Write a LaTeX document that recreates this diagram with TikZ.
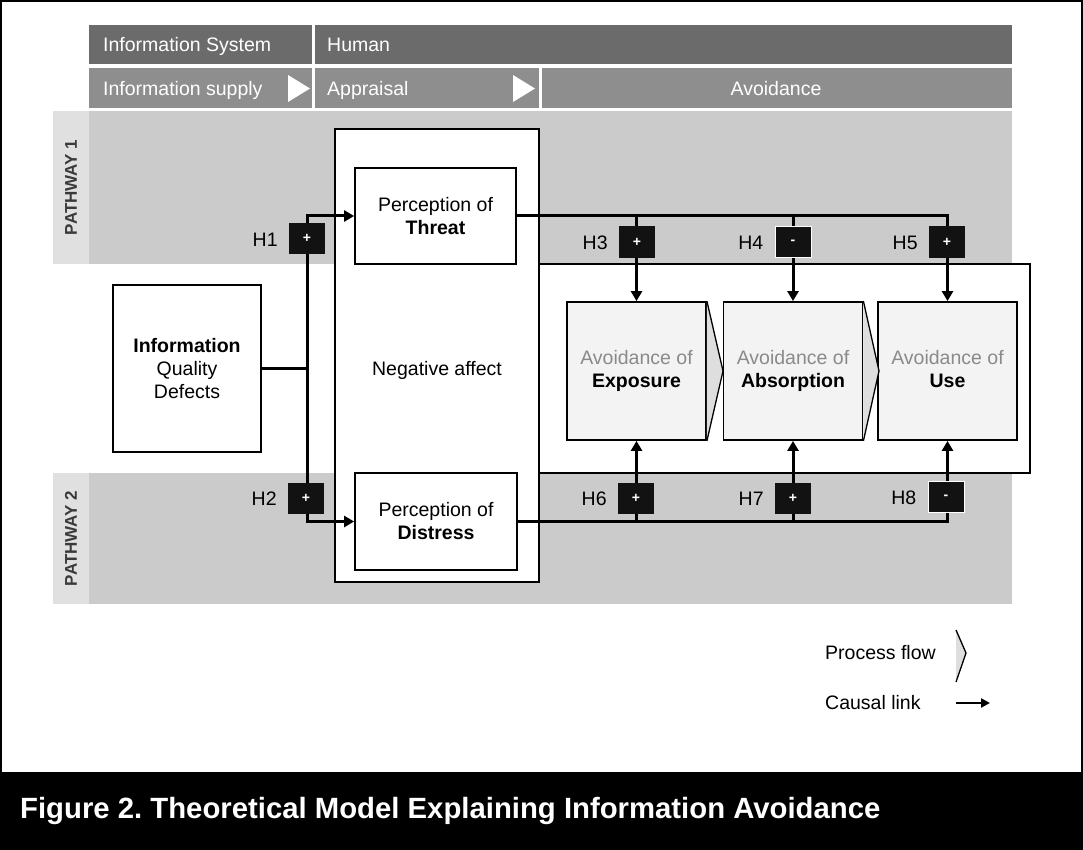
\documentclass[tikz,border=0pt]{standalone}
\usepackage{fontspec}
\setmainfont{Liberation Sans}
\usetikzlibrary{arrows.meta}
\definecolor{rowdark}{HTML}{6B6B6B}
\definecolor{rowmid}{HTML}{8E8E8E}
\definecolor{band}{HTML}{CBCBCB}
\definecolor{bandlab}{HTML}{E0E0E0}
\definecolor{avoidfill}{HTML}{F3F3F3}
\definecolor{flowfill}{HTML}{DEDEDE}
\definecolor{greytext}{HTML}{8A8A8A}
\definecolor{pathtext}{HTML}{3A3A3A}
\newcommand{\txt}{\fontsize{19.5}{23}\selectfont}
\frenchspacing
\begin{document}
\begin{tikzpicture}[x=1pt,y=-1pt,
    box/.style={draw, line width=1.8pt, fill=white, align=center, inner sep=0pt, font=\txt},
    avoid/.style={box, fill=avoidfill, minimum width=139, minimum height=138},
    hyp/.style={fill=black!93, text=white, minimum width=36, minimum height=31, inner sep=0pt,
      font=\fontsize{14}{14}\selectfont\bfseries},
    hneg/.style={hyp, draw=white, line width=1pt},
    hlab/.style={font=\txt, inner sep=0pt, xshift=-11pt, yshift=-1pt},
    causal/.style={line width=3pt, -{Triangle[length=10pt,width=11pt]}},
    link/.style={line width=3pt},
    flow/.style={fill=flowfill, draw, line width=1.3pt, line join=miter},
    head/.style={text=white, font=\txt, anchor=base west, inner sep=0pt},
    path/.style={rotate=90, text=pathtext, font=\fontsize{17}{17}\selectfont\bfseries, inner sep=0pt}]
\useasboundingbox (0,0) rectangle (1083,850);
% header rows
\fill[rowdark] (89,25) rectangle (312,64);
\fill[rowdark] (315,25) rectangle (1012,64);
\fill[rowmid] (89,68) rectangle (312,108);
\fill[rowmid] (315,68) rectangle (539,108);
\fill[rowmid] (542,68) rectangle (1012,108);
\fill[white] (288,75) -- (310,88.5) -- (288,102) -- cycle;
\fill[white] (513,75) -- (535,88.5) -- (513,102) -- cycle;
\node[head] (is) at (103,52) {Information System};
\node[head] (hum) at (327,52) {Human};
\node[head] (sup) at (103,95.5) {Information supply};
\node[head] (app) at (327,95.5) {Appraisal};
\node[head, anchor=base] (avo) at (776,95.5) {Avoidance};
% pathway bands
\fill[bandlab] (53,111) rectangle (89,264);
\fill[band] (89,111) rectangle (1012,264);
\fill[bandlab] (53,473) rectangle (89,604);
\fill[band] (89,473) rectangle (1012,604);
\node[path] (p1) at (71,187.5) {PATHWAY 1};
\node[path] (p2) at (71,538.5) {PATHWAY 2};
% affect and avoidance areas
\draw[line width=1.8pt, fill=white] (539,264) rectangle (1030,473);
\node[box, minimum width=204, minimum height=453] (neg) at (437,355.5) {};
\node[font=\txt] (negtxt) at (437,370) {Negative affect};
% constructs
\node[box, minimum width=148, minimum height=167] (iqd) at (187,368.5) {\textbf{Information}\\Quality\\Defects};
\node[box, minimum width=161, minimum height=96] (thr) at (435.5,216) {Perception of\\\textbf{Threat}};
\node[box, minimum width=162, minimum height=97] (dis) at (436,521.5) {Perception of\\\textbf{Distress}};
\node[avoid] (exp) at (636.5,371) {\textcolor{greytext}{Avoidance of}\\\textbf{Exposure}};
\node[avoid] (abs) at (793,371) {\textcolor{greytext}{Avoidance of}\\\textbf{Absorption}};
\node[avoid] (use) at (947.5,371) {\textcolor{greytext}{Avoidance of}\\\textbf{Use}\vphantom{p}};
\filldraw[flow] (exp.north east) -- (723,371) -- (exp.south east);
\filldraw[flow] (abs.north east) -- (879,371) -- (abs.south east);
% causal links
\coordinate (jn) at (307,368.5);
\draw[link] (iqd.east) -- (jn);
\draw[causal] (jn) |- (thr.west);
\draw[causal] (jn) |- (dis.west);
\draw[causal] (thr.east) -| (use.north);
\draw[causal] (thr.east -| exp.north) -- (exp.north);
\draw[causal] (thr.east -| abs.north) -- (abs.north);
\draw[causal] (dis.east) -| (use.south);
\draw[causal] (dis.east -| exp.south) -- (exp.south);
\draw[causal] (dis.east -| abs.south) -- (abs.south);
% hypotheses
\node[hyp, label={[hlab]left:H1}] (h1) at (307,238.5) {+};
\node[hyp, label={[hlab]left:H2}] (h2) at (306,498) {+};
\node[hyp, label={[hlab]left:H3}] (h3) at (637,242) {+};
\node[hneg, label={[hlab]left:H4}] (h4) at (793,242) {-};
\node[hyp, label={[hlab]left:H5}] (h5) at (947,242) {+};
\node[hyp, label={[hlab]left:H6}] (h6) at (636,498) {+};
\node[hyp, label={[hlab]left:H7}] (h7) at (793,498) {+};
\node[hneg, label={[hlab]left:H8}] (h8) at (946,497) {-};
% legend
\node[font=\txt, anchor=west, inner sep=0pt] (pf) at (825,653) {Process flow};
\node[font=\txt, anchor=west, inner sep=0pt] (cl) at (825,703) {Causal link};
\filldraw[flow] (956,630) -- (966,653) -- (956,682);
\coordinate (cla) at (956,703);
\coordinate (clb) at (990,703);
\draw[line width=2.4pt, -{Triangle[length=9pt,width=9pt]}] (cla) -- (clb);
% caption
\fill[black] (0,772) rectangle (1083,850);
\node[text=white, anchor=west, inner sep=0pt, font=\fontsize{29.3}{31}\selectfont\bfseries] (cap) at (20,811) {Figure 2. Theoretical Model Explaining Information Avoidance};
\draw[line width=2pt] (1,1) rectangle (1082,849);
\end{tikzpicture}
\end{document}
